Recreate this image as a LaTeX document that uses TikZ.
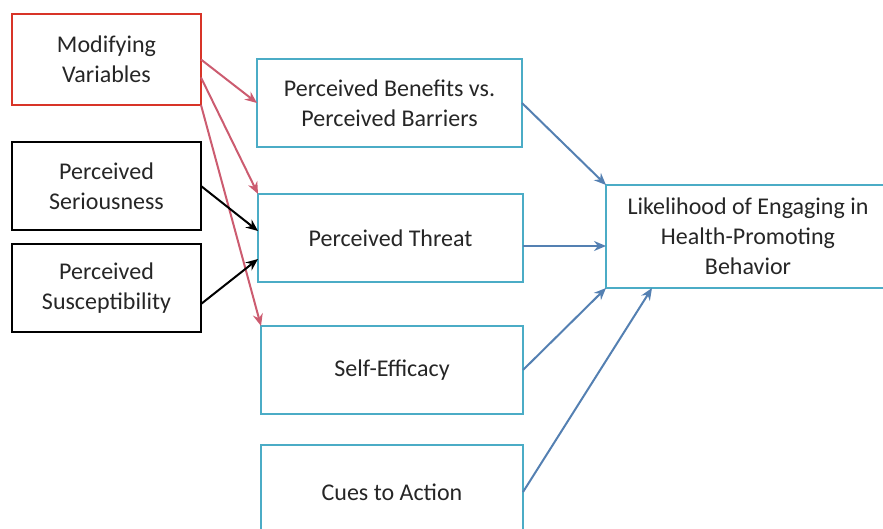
\documentclass[tikz,border=0pt]{standalone}
\usepackage{fontspec}
\setmainfont{Carlito}
\usetikzlibrary{arrows.meta}
\definecolor{modred}{RGB}{216,52,40}
\definecolor{factorcyan}{RGB}{75,172,198}
\definecolor{linkblue}{RGB}{84,128,178}
\definecolor{linkred}{RGB}{204,92,112}

\begin{document}
\begin{tikzpicture}[x=0.5pt, y=-0.5pt, outer sep=0pt, font=\fontsize{12}{15}\selectfont]

\tikzstyle{box}=[draw, rectangle, line width=1.4pt, align=center, anchor=north west, text=black!85, minimum width=94.5pt, minimum height=44pt]
\tikzstyle{factor}=[box, draw=factorcyan, minimum width=132.5pt]
\tikzstyle{link}=[line width=1pt, -{Stealth[length=6pt, width=5pt]}]

\clip (0,0) rectangle (883,529);

\node[box, draw=modred, minimum height=45.5pt] (mod) at (12,14) {Modifying\\Variables};
\node[box] (ser) at (12,142) {Perceived\\Seriousness}; \node[box] (sus) at (12,244) {Perceived\\Susceptibility};

\node[factor] (ben) at (257,59) {Perceived Benefits vs.\\Perceived Barriers};
\node[factor] (thr) at (258,194) {Perceived Threat};
\node[factor, minimum width=131pt] (eff) at (261,326) {Self-Efficacy};
\node[factor, minimum width=131pt, minimum height=47pt] (cue) at (261,445) {Cues to Action};
\node[factor, minimum width=142pt, minimum height=51.5pt] (lik) at (606,185) {Likelihood of Engaging in\\Health-Promoting\\Behavior};

% modifying variables
\draw[link, linkred] (mod.east) -- (ben.west);
\draw[link, linkred] ([yshift=-9pt]mod.east) -- (thr.north west);
\draw[link, linkred] (mod.south east) -- (eff.north west);

% threat
\draw[link, black] (ser.east) -- ([yshift=3.5pt]thr.west);
\draw[link, black] ([yshift=-8pt]sus.east) -- ([yshift=-10.5pt]thr.west);

% outcome
\draw[link, linkblue] (ben.east) -- (lik.north west);
\draw[link, linkblue] ([yshift=-4pt]thr.east) -- ([yshift=-4pt]thr.east -| lik.west);
\draw[link, linkblue] (eff.east) -- (lik.south west);
\draw[link, linkblue] (cue.east) -- ([xshift=23pt]lik.south west);
\end{tikzpicture}
\end{document}
